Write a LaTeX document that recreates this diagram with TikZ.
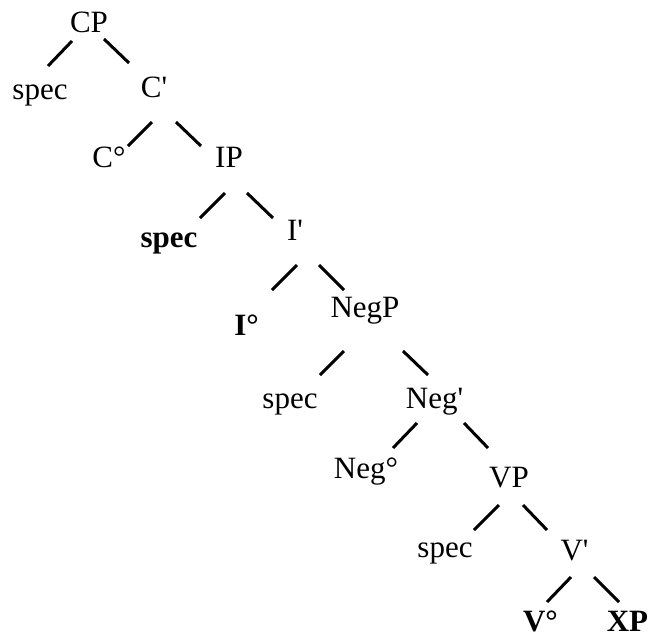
\documentclass[tikz,border=0pt]{standalone}
\usepackage{fontspec}
\setmainfont{Liberation Serif}
\begin{document}
\begin{tikzpicture}[x=1pt,y=-1pt,
  lab/.style={anchor=base,inner sep=0pt,font=\fontsize{31}{31}\selectfont},
  blab/.style={anchor=base,inner sep=0pt,font=\fontsize{31}{31}\selectfont\bfseries},
  edge/.style={line width=3pt}]
\useasboundingbox (0,0) rectangle (651,635);
% labels
\node[lab]  (cp)    at (89,32)    {CP};
\node[lab]  (spec1) at (40,99)    {spec};
\node[lab]  (cbar)  at (154,97)   {C\textquotesingle};
\node[lab]  (c0)    at (109,167)  {C°};
\node[lab]  (ip)    at (229,167)  {IP};
\node[blab] (spec2) at (169,247)  {spec};
\node[lab]  (ibar)  at (295,240)  {I\textquotesingle};
\node[blab] (i0)    at (246.5,335){I°};
\node[lab]  (negp)  at (365,317)  {NegP};
\node[lab]  (spec3) at (290,408)  {spec};
\node[lab]  (negbar) at (434.5,408) {Neg\textquotesingle};
\node[lab]  (neg0)  at (366,478)  {Neg°};
\node[lab]  (vp)    at (509,487)  {VP};
\node[lab]  (spec4) at (445,557)  {spec};
\node[lab]  (vbar)  at (574.5,560){V\textquotesingle};
\node[blab] (v0)    at (540.5,631){V°};
\node[blab] (xp)    at (627.5,631){XP};
% branch end points
\coordinate (cpL1) at (72,41);   \coordinate (cpL2) at (48,66);
\coordinate (cpR1) at (104,39);  \coordinate (cpR2) at (129,63);
\coordinate (cbL1) at (152,122); \coordinate (cbL2) at (128,146);
\coordinate (cbR1) at (176,122); \coordinate (cbR2) at (201,146);
\coordinate (ipL1) at (225,193); \coordinate (ipL2) at (200,218);
\coordinate (ipR1) at (247,193); \coordinate (ipR2) at (273,218);
\coordinate (ibL1) at (297,265); \coordinate (ibL2) at (272,290);
\coordinate (ibR1) at (319,265); \coordinate (ibR2) at (344,290);
\coordinate (npL1) at (344,351); \coordinate (npL2) at (320,375);
\coordinate (npR1) at (403,351); \coordinate (npR2) at (428,375);
\coordinate (nbL1) at (417,423); \coordinate (nbL2) at (393,448);
\coordinate (nbR1) at (464,423); \coordinate (nbR2) at (488,448);
\coordinate (vpL1) at (499,505); \coordinate (vpL2) at (474,530);
\coordinate (vpR1) at (523,505); \coordinate (vpR2) at (547,530);
\coordinate (vbL1) at (571,577); \coordinate (vbL2) at (547,602);
\coordinate (vbR1) at (594,577); \coordinate (vbR2) at (619,602);
\foreach \a/\b in {cpL1/cpL2,cpR1/cpR2,cbL1/cbL2,cbR1/cbR2,ipL1/ipL2,ipR1/ipR2,
  ibL1/ibL2,ibR1/ibR2,npL1/npL2,npR1/npR2,nbL1/nbL2,nbR1/nbR2,vpL1/vpL2,vpR1/vpR2,
  vbL1/vbL2,vbR1/vbR2}
  \draw[edge] (\a) -- (\b);
\end{tikzpicture}
\end{document}
